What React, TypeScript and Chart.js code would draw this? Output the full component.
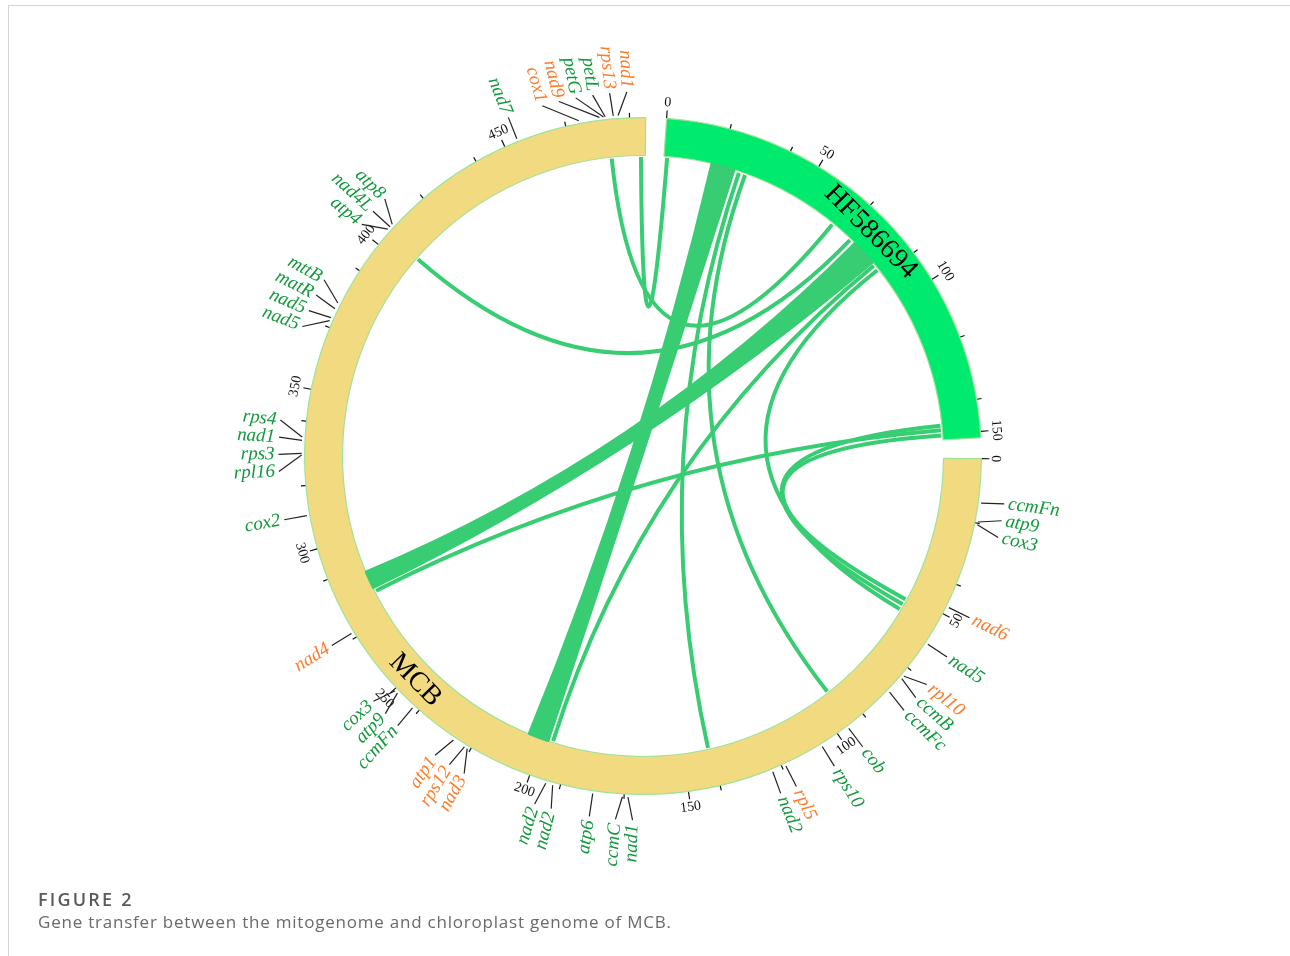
import React, { useEffect, useRef } from "react";
import { Chart, registerables } from "chart.js";

Chart.register(...registerables);

// ---- chromosomes ----
const chromNames = ["HF586694", "MCB"];
const chromLengths = [152, 495];
const chromColors = ["#00ea6d", "#f2da80"];
const gapLength = 6.5;
const startRotation = 4.0;

// ---- axis ticks ----
const majorTickStep = 50;
const minorTickOffsets = [20, 40];

// ---- gene labels on MCB ----
const geneNames = [
  "ccmFn", "atp9", "cox3", "nad6", "nad5", "rpl10", "ccmB", "ccmFc", "cob", "rps10",
  "rpl5", "nad2", "nad1", "ccmC", "atp6", "nad2", "nad2", "nad3", "rps12", "atp1",
  "ccmFn", "atp9", "cox3", "nad4", "cox2", "rpl16", "rps3", "nad1", "rps4", "nad5",
  "nad5", "matR", "mttB", "atp4", "nad4L", "atp8", "nad7", "cox1", "nad9", "petG",
  "petL", "rps13", "nad1",
];
const genePositions = [
  13.7, 19.6, 20.5, 47.5, 60.5, 72.8, 73.8, 79.4, 96.2, 106.1,
  118.8, 123.2, 168.8, 170.5, 179.7, 192.3, 194.5, 221.0, 222.0, 226.0,
  242.0, 248.5, 249.5, 271.7, 310.7, 329.5, 330.0, 334.0, 335.0, 372.0,
  373.0, 376.0, 378.0, 405.5, 406.5, 407.5, 454.4, 474.3, 480.7, 482.0,
  482.5, 485.0, 486.5,
];
const geneClasses = [
  "g", "g", "g", "o", "g", "o", "g", "g", "g", "g",
  "o", "g", "g", "g", "g", "g", "g", "o", "o", "o",
  "g", "g", "g", "o", "g", "g", "g", "g", "g", "g",
  "g", "g", "g", "g", "g", "g", "g", "o", "o", "g",
  "g", "o", "o",
];

// ---- links: HF586694 interval <-> MCB interval ----
const linkHfStart = [0.5, 17.0, 26.3, 28.6, 64.0, 72.3, 75.0, 84.6, 86.6, 146.4, 148.0, 149.8];
const linkHfEnd = [1.8, 25.0, 27.6, 29.9, 65.3, 73.6, 84.0, 85.9, 87.9, 147.7, 149.3, 151.1];
const linkMcbStart = [492.8, 198.0, 140.5, 93.8, 482.5, 404.0, 281.5, 195.6, 55.0, 53.0, 279.4, 51.0];
const linkMcbEnd = [494.1, 205.0, 141.8, 95.1, 483.8, 405.3, 287.5, 196.9, 56.3, 54.3, 280.7, 52.3];

const captionTitle = "FIGURE 2";
const captionText = "Gene transfer between the mitogenome and chloroplast genome of MCB.";

const linkColor = "#38cd73";
const geneColorMap: Record<string, string> = { g: "#12993b", o: "#fb7c2a" };
const serif = '"Liberation Serif", "Times New Roman", serif';

const circosPlugin = {
  id: "circos",
  afterDatasetsDraw(chart: any) {
    const ctx: CanvasRenderingContext2D = chart.ctx;
    const arcs = chart.getDatasetMeta(0).data as any[];
    const segs = [arcs[0], arcs[2]];
    const cx = segs[0].x;
    const cy = segs[0].y;
    const rIn = segs[0].innerRadius;
    const rOut = segs[0].outerRadius;
    const angleOf = (c: number, p: number) =>
      segs[c].startAngle + (p / chromLengths[c]) * (segs[c].endAngle - segs[c].startAngle);
    const pt = (a: number, r: number): [number, number] => [cx + r * Math.cos(a), cy + r * Math.sin(a)];
    const toDeg = (a: number) => {
      const d = ((a + Math.PI / 2) * 180) / Math.PI;
      return ((d % 360) + 360) % 360;
    };
    const fromDeg = (d: number) => (d * Math.PI) / 180 - Math.PI / 2;
    const tangentRot = (deg: number) => {
      const r = deg > 90 && deg < 270 ? deg - 180 : deg;
      return (r * Math.PI) / 180;
    };

    ctx.save();
    // links
    ctx.fillStyle = linkColor;
    ctx.strokeStyle = linkColor;
    ctx.lineJoin = "round";
    const rl = rIn - 0.5;
    for (let i = 0; i < linkHfStart.length; i++) {
      const a1 = angleOf(0, linkHfStart[i]);
      const a2 = angleOf(0, linkHfEnd[i]);
      const b1 = angleOf(1, linkMcbStart[i]);
      const b2 = angleOf(1, linkMcbEnd[i]);
      const wide = linkHfEnd[i] - linkHfStart[i] > 3;
      if (wide) {
        ctx.beginPath();
        ctx.arc(cx, cy, rl, a1, a2);
        const p1 = pt(b1, rl);
        ctx.quadraticCurveTo(cx, cy, p1[0], p1[1]);
        ctx.arc(cx, cy, rl, b1, b2);
        const p0 = pt(a1, rl);
        ctx.quadraticCurveTo(cx, cy, p0[0], p0[1]);
        ctx.closePath();
        ctx.fill();
        ctx.lineWidth = 3;
        ctx.stroke();
      } else {
        const am = (a1 + a2) / 2;
        const bm = (b1 + b2) / 2;
        const s = pt(am, rl - 1);
        const e = pt(bm, rl - 1);
        ctx.beginPath();
        ctx.moveTo(s[0], s[1]);
        ctx.quadraticCurveTo(cx, cy, e[0], e[1]);
        ctx.lineWidth = 4;
        ctx.stroke();
      }
    }

    // ticks + tick labels
    ctx.strokeStyle = "#111";
    ctx.fillStyle = "#111";
    ctx.lineWidth = 1.2;
    ctx.font = `14px ${serif}`;
    ctx.textAlign = "center";
    ctx.textBaseline = "middle";
    for (let c = 0; c < 2; c++) {
      for (let m = 0; m <= chromLengths[c]; m += majorTickStep) {
        const vals: [number, boolean][] = [[m, true]];
        minorTickOffsets.forEach((o) => {
          if (m + o <= chromLengths[c]) vals.push([m + o, false]);
        });
        vals.forEach(([v, major]) => {
          const a = angleOf(c, v);
          const s = pt(a, rOut + 0.5);
          const e = pt(a, rOut + (major ? 8 : 5));
          ctx.beginPath();
          ctx.moveTo(s[0], s[1]);
          ctx.lineTo(e[0], e[1]);
          ctx.stroke();
          if (major) {
            const lp = pt(a, rOut + 16);
            ctx.save();
            ctx.translate(lp[0], lp[1]);
            ctx.rotate(tangentRot(toDeg(a)));
            ctx.fillText(String(v), 0, 0);
            ctx.restore();
          }
        });
      }
    }

    // chromosome names
    ctx.font = `28px ${serif}`;
    ctx.fillStyle = "#000";
    for (let c = 0; c < 2; c++) {
      const a = angleOf(c, chromLengths[c] / 2);
      const p = pt(a, (rIn + rOut) / 2);
      ctx.save();
      ctx.translate(p[0], p[1]);
      ctx.rotate(tangentRot(toDeg(a)));
      ctx.fillText(chromNames[c], 0, 0);
      ctx.restore();
    }

    // gene labels with spreading (kept inside the sector)
    const n = geneNames.length;
    const order = geneNames.map((_, i) => i).sort((i, j) => genePositions[i] - genePositions[j]);
    const geneDeg = order.map((i) => toDeg(angleOf(1, genePositions[i])));
    const lab = geneDeg.slice();
    const sep = 2.7;
    const maxDeg = toDeg(segs[1].endAngle) + 360 - 3;
    const minDeg = toDeg(segs[1].startAngle) + 1;
    for (let it = 0; it < 3000; it++) {
      let moved = false;
      for (let k = 1; k < n; k++) {
        const d = lab[k] - lab[k - 1];
        if (d < sep - 1e-4) {
          const push = (sep - d) / 2;
          lab[k - 1] -= push;
          lab[k] += push;
          moved = true;
        }
      }
      if (lab[n - 1] > maxDeg) { lab[n - 1] = maxDeg; }
      if (lab[0] < minDeg) { lab[0] = minDeg; }
      if (!moved) break;
    }
    ctx.font = `italic 19px ${serif}`;
    ctx.textBaseline = "middle";
    ctx.lineWidth = 1.2;
    ctx.strokeStyle = "#222";
    for (let k = 0; k < n; k++) {
      const i = order[k];
      const ga = fromDeg(geneDeg[k]);
      const la = fromDeg(lab[k]);
      const s = pt(ga, rOut + 3);
      const e = pt(la, rOut + 26);
      ctx.beginPath();
      ctx.moveTo(s[0], s[1]);
      ctx.lineTo(e[0], e[1]);
      ctx.stroke();
      const tp = pt(la, rOut + 30);
      const deg = ((lab[k] % 360) + 360) % 360;
      ctx.save();
      ctx.translate(tp[0], tp[1]);
      ctx.fillStyle = geneColorMap[geneClasses[i]];
      if (deg < 180) {
        ctx.rotate(((deg - 90) * Math.PI) / 180);
        ctx.textAlign = "left";
      } else {
        ctx.rotate(((deg - 270) * Math.PI) / 180);
        ctx.textAlign = "right";
      }
      ctx.fillText(geneNames[i], 0, 0);
      ctx.restore();
    }
    ctx.restore();
  },
};

export default function App() {
  const ref = useRef<HTMLCanvasElement>(null);
  useEffect(() => {
    const canvas = ref.current!;
    const chart = new Chart(canvas, {
      type: "doughnut",
      data: {
        labels: [chromNames[0], "gap1", chromNames[1], "gap2"],
        datasets: [
          {
            data: [chromLengths[0], gapLength, chromLengths[1], gapLength],
            backgroundColor: [chromColors[0], "rgba(0,0,0,0)", chromColors[1], "rgba(0,0,0,0)"],
            borderColor: ["#9fe39a", "rgba(0,0,0,0)", "#9fe39a", "rgba(0,0,0,0)"],
            borderWidth: 1.2,
            hoverOffset: 0,
            offset: 0,
          } as any,
        ],
      },
      options: {
        responsive: false,
        animation: false,
        devicePixelRatio: 1,
        rotation: startRotation,
        circumference: 360,
        cutout: "88.8%",
        radius: "100%",
        events: [],
        layout: { padding: { left: 304, right: 308, top: 117, bottom: 161 } },
        plugins: { legend: { display: false }, tooltip: { enabled: false } },
      } as any,
      plugins: [circosPlugin as any],
    });
    return () => chart.destroy();
  }, []);

  return (
    <div style={{ position: "absolute", left: 0, top: 0, width: 1290, height: 956, background: "#fff", overflow: "hidden" }}>
      <div
        style={{
          position: "absolute",
          left: 8,
          top: 5,
          right: 0,
          bottom: 0,
          borderTop: "1px solid #d4d4d4",
          borderLeft: "1px solid #d4d4d4",
        }}
      />
      <canvas ref={ref} width={1290} height={956} style={{ position: "absolute", left: 0, top: 0 }} />
      <div
        style={{
          position: "absolute",
          left: 38,
          top: 890,
          fontFamily: '"Open Sans", "Noto Sans", sans-serif',
          fontSize: 18,
          lineHeight: "18px",
          fontWeight: 600,
          letterSpacing: 2.2,
          color: "#5a5a5a",
          whiteSpace: "nowrap",
        }}
      >
        {captionTitle}
      </div>
      <div
        style={{
          position: "absolute",
          left: 38,
          top: 913,
          fontFamily: '"Open Sans", "Noto Sans", sans-serif',
          fontSize: 17,
          lineHeight: "17px",
          letterSpacing: 0.78,
          color: "#6a6a6a",
          whiteSpace: "nowrap",
        }}
      >
        {captionText}
      </div>
    </div>
  );
}
